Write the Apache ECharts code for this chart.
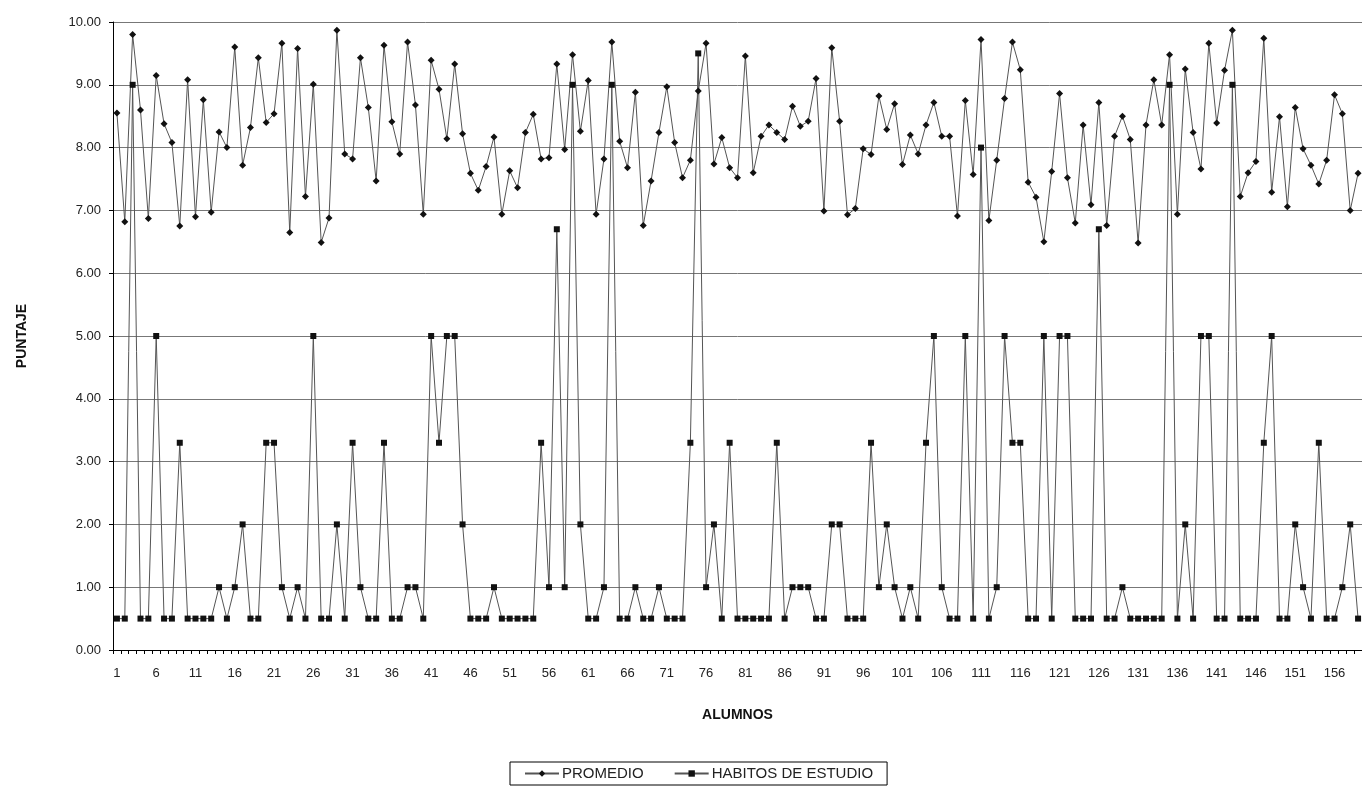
<!DOCTYPE html>
<html>
<head>
<meta charset="utf-8">
<script src="https://cdn.jsdelivr.net/npm/echarts@6/dist/echarts.min.js"></script>
<style>html,body{margin:0;padding:0;background:#fff;}#c{width:1362px;height:803px;}</style>
</head>
<body>
<div id="c"></div>
<script>
var promedio = [8.55,6.82,9.8,8.6,6.87,9.15,8.38,8.08,6.75,9.08,
6.9,8.76,6.97,8.25,8.0,9.6,7.72,8.32,9.43,8.4,
8.54,9.66,6.65,9.58,7.22,9.01,6.49,6.88,9.87,7.9,
7.82,9.43,8.64,7.47,9.63,8.41,7.9,9.68,8.68,6.94,
9.39,8.93,8.14,9.33,8.22,7.59,7.32,7.7,8.17,6.94,
7.63,7.36,8.24,8.53,7.82,7.84,9.33,7.97,9.48,8.26,
9.07,6.94,7.82,9.68,8.1,7.68,8.88,6.76,7.47,8.24,
8.97,8.08,7.52,7.8,8.9,9.66,7.74,8.16,7.68,7.52,
9.46,7.6,8.18,8.36,8.24,8.13,8.66,8.34,8.42,9.1,
6.99,9.59,8.42,6.93,7.03,7.98,7.89,8.82,8.29,8.7,
7.73,8.2,7.9,8.36,8.72,8.18,8.18,6.91,8.75,7.57,
9.72,6.84,7.8,8.78,9.68,9.24,7.45,7.21,6.5,7.62,
8.86,7.52,6.8,8.36,7.09,8.72,6.76,8.18,8.5,8.13,
6.48,8.36,9.08,8.36,9.48,6.94,9.25,8.24,7.66,9.66,
8.39,9.23,9.87,7.22,7.6,7.78,9.74,7.29,8.49,7.06,
8.64,7.98,7.72,7.42,7.8,8.84,8.54,7.0,7.59];
var habitos = [0.5,0.5,9.0,0.5,0.5,5.0,0.5,0.5,3.3,0.5,
0.5,0.5,0.5,1.0,0.5,1.0,2.0,0.5,0.5,3.3,
3.3,1.0,0.5,1.0,0.5,5.0,0.5,0.5,2.0,0.5,
3.3,1.0,0.5,0.5,3.3,0.5,0.5,1.0,1.0,0.5,
5.0,3.3,5.0,5.0,2.0,0.5,0.5,0.5,1.0,0.5,
0.5,0.5,0.5,0.5,3.3,1.0,6.7,1.0,9.0,2.0,
0.5,0.5,1.0,9.0,0.5,0.5,1.0,0.5,0.5,1.0,
0.5,0.5,0.5,3.3,9.5,1.0,2.0,0.5,3.3,0.5,
0.5,0.5,0.5,0.5,3.3,0.5,1.0,1.0,1.0,0.5,
0.5,2.0,2.0,0.5,0.5,0.5,3.3,1.0,2.0,1.0,
0.5,1.0,0.5,3.3,5.0,1.0,0.5,0.5,5.0,0.5,
8.0,0.5,1.0,5.0,3.3,3.3,0.5,0.5,5.0,0.5,
5.0,5.0,0.5,0.5,0.5,6.7,0.5,0.5,1.0,0.5,
0.5,0.5,0.5,0.5,9.0,0.5,2.0,0.5,5.0,5.0,
0.5,0.5,9.0,0.5,0.5,0.5,3.3,5.0,0.5,0.5,
2.0,1.0,0.5,3.3,0.5,0.5,1.0,2.0,0.5];
var alumnos = [];
for (var i = 1; i <= promedio.length; i++) alumnos.push(String(i));

var chart = echarts.init(document.getElementById('c'), null, {renderer: 'canvas'});
var font = 'Liberation Sans, Arial, sans-serif';
chart.setOption({
  backgroundColor: '#fff',
  animation: false,
  textStyle: {fontFamily: font},
  grid: {left: 113, right: 0, top: 22, bottom: 153},
  legend: {
    bottom: 18,
    left: 510,
    data: ['PROMEDIO', 'HABITOS DE ESTUDIO'],
    itemWidth: 34, itemHeight: 8, itemGap: 30,
    borderColor: '#000', borderWidth: 1, padding: [4, 14],
    textStyle: {fontSize: 15, color: '#222', fontFamily: font, padding: [0, 0, 0, -2]}
  },
  xAxis: {
    type: 'category',
    data: alumnos,
    boundaryGap: true,
    name: 'ALUMNOS',
    nameLocation: 'middle',
    nameGap: 58,
    nameTextStyle: {fontSize: 14, fontWeight: 'bold', color: '#111', fontFamily: font},
    axisLine: {lineStyle: {color: '#000', width: 1}},
    axisTick: {show: true, interval: 0, length: 4, lineStyle: {color: '#000'}},
    axisLabel: {interval: 4, fontSize: 13, color: '#222', margin: 17},
    splitLine: {show: false}
  },
  yAxis: {
    type: 'value',
    min: 0, max: 10, interval: 1,
    name: 'PUNTAJE',
    nameLocation: 'middle',
    nameGap: 84,
    nameRotate: 90,
    nameTextStyle: {fontSize: 14, fontWeight: 'bold', color: '#111', fontFamily: font},
    axisLine: {show: true, lineStyle: {color: '#000', width: 1}},
    axisTick: {show: true, length: 4, lineStyle: {color: '#000'}},
    axisLabel: {fontSize: 13, color: '#222', margin: 12, formatter: function (v) { return v.toFixed(2); }},
    splitLine: {show: true, lineStyle: {color: '#777', width: 1}}
  },
  series: [
    {
      name: 'PROMEDIO',
      type: 'line',
      data: promedio,
      symbol: 'diamond',
      symbolSize: 7,
      showAllSymbol: true,
      itemStyle: {color: '#111'},
      lineStyle: {color: '#555', width: 1}
    },
    {
      name: 'HABITOS DE ESTUDIO',
      type: 'line',
      data: habitos,
      symbol: 'rect',
      symbolSize: 6,
      showAllSymbol: true,
      itemStyle: {color: '#111'},
      lineStyle: {color: '#555', width: 1}
    }
  ]
});
</script>
</body>
</html>
